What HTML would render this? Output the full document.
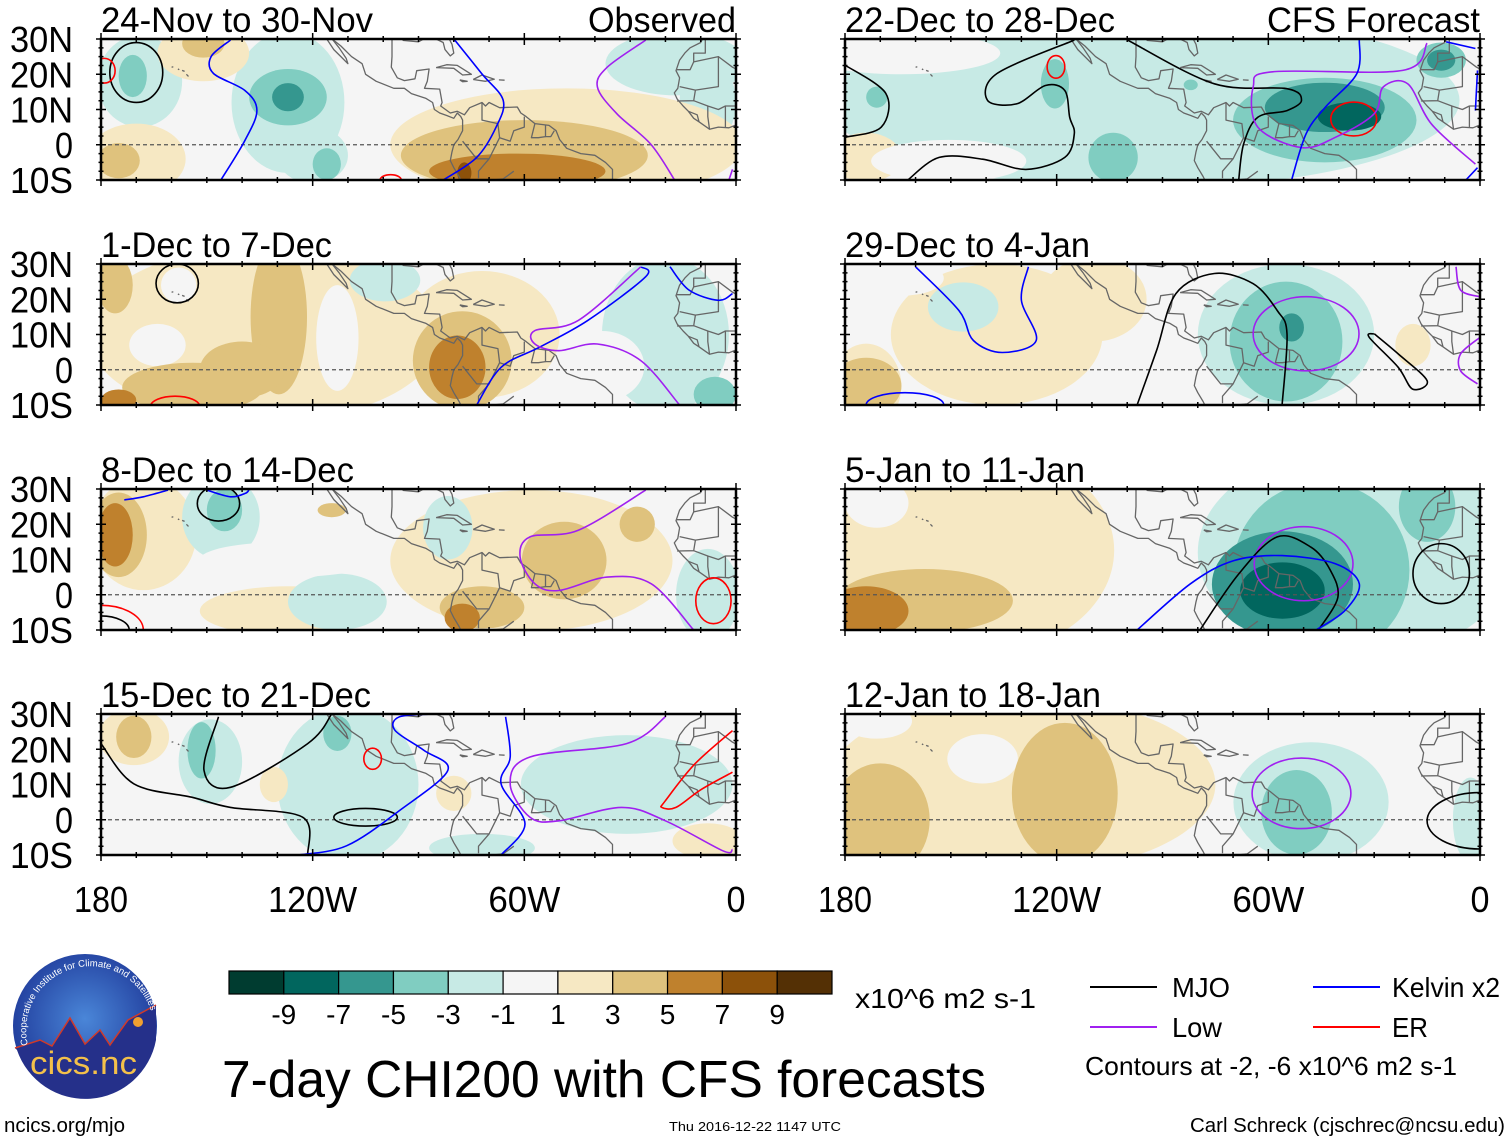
<!DOCTYPE html>
<html><head><meta charset="utf-8"><style>
html,body{margin:0;padding:0;background:#fff}
svg text{font-family:"Liberation Sans Narrow","Liberation Sans",sans-serif;fill:#000}
</style></head><body>
<svg id="fig" width="1510" height="1142" viewBox="0 0 1510 1142" xmlns="http://www.w3.org/2000/svg">
<defs>
<radialGradient id="lg" cx="50%" cy="45%" r="55%"><stop offset="0" stop-color="#4a86d8"/><stop offset="1" stop-color="#1f3a9a"/></radialGradient>
</defs>
<g id="panels"></g>
<g id="colorbar"></g>
<g>
<circle cx="85" cy="1026" r="72" fill="url(#lg)"/>
<path d="M15,1048 L40,1040 L52,1046 L70,1018 L85,1044 L100,1030 L110,1045 L128,1020 L156,1005 L156,1040 A72,72 0 0 1 17,1050 Z" fill="#25308a"/>
<path d="M15,1048 L40,1040 L52,1046 L70,1018 L85,1044 L100,1030 L110,1045 L128,1020 L156,1005" fill="none" stroke="#d03a2a" stroke-width="1.5"/>
<circle cx="138" cy="1022" r="5" fill="#f0a030"/>
<text x="30" y="1074" font-size="32" style="fill:#f3c04a;font-family:'Liberation Sans',sans-serif" textLength="107" lengthAdjust="spacingAndGlyphs">cics.nc</text>
<path id="arcp" d="M28,1045 A60,60 0 1 1 152,1015" fill="none"/>
<text font-size="9.5" style="fill:#fff;font-family:'Liberation Sans',sans-serif"><textPath href="#arcp">Cooperative Institute for Climate and Satellites</textPath></text>
</g>
<g>
<line x1="1090" y1="987" x2="1157" y2="987" stroke="#000" stroke-width="2"/>
<text x="1172" y="997" font-size="28" textLength="58" lengthAdjust="spacingAndGlyphs">MJO</text>
<line x1="1313" y1="987" x2="1380" y2="987" stroke="#0000ff" stroke-width="2"/>
<text x="1392" y="997" font-size="28" textLength="108" lengthAdjust="spacingAndGlyphs">Kelvin x2</text>
<line x1="1090" y1="1027" x2="1157" y2="1027" stroke="#a020f0" stroke-width="2"/>
<text x="1172" y="1037" font-size="28" textLength="50" lengthAdjust="spacingAndGlyphs">Low</text>
<line x1="1313" y1="1027" x2="1380" y2="1027" stroke="#ff0000" stroke-width="2"/>
<text x="1392" y="1037" font-size="28" textLength="36" lengthAdjust="spacingAndGlyphs">ER</text>
<text x="1085" y="1075" font-size="26" textLength="372" lengthAdjust="spacingAndGlyphs">Contours at -2, -6 x10^6 m2 s-1</text>
</g>
<text x="222" y="1097" font-size="52" textLength="764" lengthAdjust="spacingAndGlyphs">7-day CHI200 with CFS forecasts</text>
<text x="855" y="1008" font-size="28" textLength="181" lengthAdjust="spacingAndGlyphs">x10^6 m2 s-1</text>
<text x="4" y="1132" font-size="20" textLength="121" lengthAdjust="spacingAndGlyphs">ncics.org/mjo</text>
<text x="669" y="1131" font-size="13" textLength="172" lengthAdjust="spacingAndGlyphs">Thu 2016-12-22 1147 UTC</text>
<text x="1190" y="1132" font-size="20" textLength="315" lengthAdjust="spacingAndGlyphs">Carl Schreck (cjschrec@ncsu.edu)</text>
</svg>
<script>
// ---- data ----
const panelTitles = ["24-Nov to 30-Nov","1-Dec to 7-Dec","8-Dec to 14-Dec","15-Dec to 21-Dec","22-Dec to 28-Dec","29-Dec to 4-Jan","5-Jan to 11-Jan","12-Jan to 18-Jan"];
const titleWidths = [272,231,253,270,270,245,240,256];
const latTicks = ["30N","20N","10N","0","10S"];
const latValues = [30,20,10,0,-10];
const lonTicks = ["180","120W","60W","0"];
const lonValues = [-180,-120,-60,0];
const cbarLevels = [-9,-7,-5,-3,-1,1,3,5,7,9];
// anomaly blobs per panel: [lon, lat, rxDeg, ryDeg, chiValue]
const blobs0 = [[-169,18,12,13,-2],[-127,12,16,20,-2],[-120,-3,10,8,-2],[-17,23,20,9,-2],[-8,12,8,12,-2],[-48,0,50,16,2],[-151,26,13,8,2],[-170,-4,14,10,2],
 [-171,19.5,4,6,-4],[-127,13.5,11,8,-4],[-116,-5.5,4,4.5,-4],[-60,-3,35,10,4],[-151,28.7,6,4,4],[-175,-4.5,6,5,4],
 [-127,13.5,4.5,4,-6],[-62,-7.5,25,5,6],[-77,-8,2,3,8]];
const blobs1 = [[-133.7,10.2,50,25,2],[-72,10,22,18,2],[-20,10,18,22,-2],[-99.5,25.4,10,6,-2],
 [-164,7,8,6,0],[-113,9,6,15,0],[-158,24,5,5,0],[-38,1,12,10,0],
 [-129.6,15,8,22,4],[-140,0,12,8,4],[-154,-5,20,7,4],[-176,24,5,8,4],[-77.6,2.6,14,14,4],[-6,-7,6,5,-4],
 [-79,0.7,8,9,6],[-175,-8.6,5,3,6]];
const blobs2 = [[-168,17.3,15,16,2],[-58,9.7,40,20,2],[-127,-4.6,25,7,2],[-146,22,11,12,-2],[-113,-2,14,8,-2],[-81.7,19,7,9,-2],[-8,0,9,13,-2],
 [-127,10,25,5,0],
 [-175,17,8,12,4],[-48.7,9.7,12,11,4],[-72,-3.6,12,6,4],[-28,20,5,5,4],[-114.6,24,4,2,4],[-145,24,5,6,-4],
 [-176,17,5,9,6],[-77.6,-6.5,5,4,6]];
const blobs3 = [[-110,10,20,22,-2],[-31,10,30,14,-2],[-149,16.5,9,12,-2],[-72,-8,15,4,-2],
 [-170.7,23.5,10,8,2],[-131,10,4,5,2],[-80,7.5,5,5,2],[-8,-6,10,5,2],
 [-151.5,19.7,4,8,-4],[-113,24.5,4,5,-4],[-170.7,23.5,5,6,4]];
const blobs4 = [[-95.8,12.6,90,25,-2],[-174,-3.6,10,7,2],[-148,29,5,2,2],
 [-164,26,28,6,0],[-150.6,-4.6,22,6,0],[-27,-8,10,3,0],[-7,-5,6,5,0],
 [-171,13.5,3,3,-4],[-120.5,17.3,4,7,-4],[-104,-3.6,7,7,-4],[-44,7,26,12,-4],[-11,24,7,5,-4],[-82,17,2,1.5,-4],
 [-44,10.6,17,7,-6],[-11,24,4,3,-6],[-37,8,9,4,-8]];
const blobs5 = [[-137,10,30,20,2],[-109.5,20,15,12,2],[-146.5,17.8,10,7,-2],[-55,10,25,20,-2],[-19,7,5,6,2],[-174,-4.6,10,12,2],
 [-164,26,12,5,0],
 [-174,-4.6,10,8,4],[-55,8,16,17,-4],[-53.4,12,3.5,4,-6]];
const blobs6 = [[-143.7,12.6,40,30,2],[-35,12,45,30,-2],
 [-171,26,9,7,0],
 [-157.4,-1.7,25,9,4],[-45,7,25,25,-4],[-15,25,8,10,-4],
 [-174,-4.6,12,7,6],[-56,3,20,15,-6],[-56,1.2,12,8,-8]];
const blobs7 = [[-130,10,55,25,2],[-47.9,5,22,17,-2],[-2.7,0,5,12,-2],
 [-141,17.3,10,7,0],[-171,28,10,5,0],
 [-170,0,14,16,4],[-117.7,7.5,15,20,4],[-52,2.1,10,12,-4]];
const blobData = [blobs0,blobs1,blobs2,blobs3,blobs4,blobs5,blobs6,blobs7];
// contour lines: [type, color, points or ellipse]
const lines0 = [["e","k",[-170,20.5,7.5,8.5]],["e","r",[-179,21,3,3.5]],["e","r",[-97.9,-10,3,1.5]],
 ["p","b",[[-143.3,29.7],[-148.8,25],[-148.1,20.2],[-139.2,15.4],[-135.8,9.7],[-139.2,1.2],[-146,-10]]],
 ["p","b",[[-79.7,29.7],[-72.1,20.2],[-66,12.6],[-68,5],[-73.5,-3.6],[-83,-10]]],
 ["p","v",[[-25.6,29.7],[-36.5,22],[-39.3,16.4],[-33.8,8.8],[-24.2,0.2],[-17.4,-10]]],
 ["p","v",[[-1,-7],[-2,-10]]]];
const lines1 = [["e","k",[-158.4,24.5,6,5.5]],["e","r",[-159,-10.5,7,3]],
 ["p","b",[[-73.5,-10],[-66.6,0.7],[-55.7,6.4],[-42,14],[-25.6,26.4],[-27,29.2]]],
 ["p","b",[[-18.7,29.2],[-13.3,22.6],[-5,19.7],[-1,21.6]]],
 ["p","v",[[-27,29.2],[-44.7,14],[-57,11.1],[-57,7.3],[-50.2,5.4],[-39.3,7.3],[-27,2.6],[-16,-10]]]];
const lines2 = [["e","k",[-146.7,25.9,6,5]],["e","r",[-180,-10,12,7]],["e","k",[-180,-10,8,4]],["e","r",[-6.4,-1.7,5,6.5]],
 ["p","b",[[-173.4,26.9],[-168,27.8],[-161,29.7]]],
 ["p","b",[[-150,29.7],[-143.3,27.8],[-139,28.8],[-138,30]]],
 ["p","v",[[-25.6,29.7],[-44.7,18.3],[-58.4,16.4],[-61.2,10.7],[-57,3.1],[-50.2,1.2],[-36.5,5],[-24,3.1],[-12,-10]]]];
const lines3 = [["e","k",[-105,0.7,9,2.5]],["e","r",[-103,17.3,2.5,3]],
 ["p","k",[[-180,21.6],[-170.7,10.2],[-154.3,6.4],[-143.3,3.5],[-122.8,0.7],[-121.4,-10]]],
 ["p","k",[[-146.7,29.2],[-150.8,14],[-143.3,9.2],[-121.4,21.6],[-114.6,30]]],
 ["p","b",[[-124,-10],[-110.4,-7.4],[-95.4,2.6],[-81.7,14],[-88.5,19.7],[-96.7,25.4],[-95.4,29.2],[-85.8,30]]],
 ["p","b",[[-65.3,29.2],[-64,17.8],[-66.6,10.2],[-59.8,-1.2],[-66.6,-10]]],
 ["p","v",[[-20,29.2],[-31,21.6],[-58.4,17.8],[-64,10.2],[-58.4,0.7],[-50.2,-0.3],[-32.4,3.5],[-20,-0.3],[-3.7,-8.8],[-1,-8.4]]],
 ["p","r",[[-1,25.3],[-11.7,15.8],[-20,5.4],[-21,3.5],[-17,3.5],[-10,8.5],[-1,13.5]]]];
const lines4 = [["e","r",[-120.2,22.1,2.5,3.2]],["e","r",[-35.8,7.3,6.5,4.8]],
 ["p","k",[[-180,22.6],[-168.4,14.5],[-169.7,5],[-180,2.1]]],
 ["p","k",[[-162.2,-10],[-153.3,-3.6],[-141,-4.1],[-128.7,-7],[-117.7,-3.6],[-115,3.1],[-116.3,7.8],[-117.7,15.4],[-123.2,16.8],[-131.4,11.6],[-139.6,12.6],[-136.9,20.2],[-115,29.7]]],
 ["p","k",[[-99.9,29.7],[-75.3,17.3],[-54.7,15.9],[-50.6,12.6],[-54.7,9.7],[-63,7.8],[-67,0.2],[-68.4,-10]]],
 ["p","v",[[-15,28.8],[-21.9,21.1],[-58.8,20.7],[-64.3,16.4],[-63,5],[-50.6,-0.8],[-41,2.1],[-30,8.8],[-27.4,16.4],[-20.5,17.3],[-13.7,5.8],[-1.3,-5.5]]],
 ["p","b",[[-34.2,29.7],[-34.9,20.2],[-43.8,10.7],[-49.3,3.1],[-53.4,-10]]],
 ["p","b",[[-9.6,29.2],[-1.3,27.3]]],["p","b",[[-0.7,21.1],[-1.3,9.7]]],["p","b",[[-4,-10],[-0.7,-6.5]]]];
const lines5 = [["e","b",[-163,-10,11,3.5]],["e","v",[-49.3,10.2,15,10.5]],
 ["p","b",[[-160,29.2],[-147.7,16.8],[-143.6,8.3],[-135.4,4.9],[-125.8,8.3],[-130,19.7],[-128,29.2]]],
 ["p","k",[[-97.2,-10],[-91.7,5.4],[-86.2,21.6],[-75.3,27.3],[-64.3,24.4],[-57.5,16.8],[-54.7,10.2],[-56.1,-10]]],
 ["p","k",[[-30,10.2],[-23.2,4.5],[-15,-3.1],[-19.1,-5.5],[-23.2,0.7],[-31.4,9.2],[-30,10.2]]],
 ["p","v",[[-6.8,29.2],[-5.5,22.6],[0,20.7]]],["p","v",[[0,9.2],[-5.5,4.5],[-5.5,-0.3],[-0.7,-4]]]];
const lines6 = [["e","k",[-11,6,8,8.5]],["e","v",[-50,8.8,14,10.5]],
 ["p","k",[[-79.4,-10],[-68.4,5.9],[-57.5,16.4],[-47.9,13.5],[-42.4,6.9],[-40.3,-0.8],[-45.8,-10]]],
 ["p","b",[[-97.2,-10],[-82.1,3.1],[-69.8,9.7],[-56.1,11.1],[-41,8.8],[-34.2,3.1],[-38.3,-4.5],[-46.5,-10]]]];
const lines7 = [["e","v",[-50.6,7.5,14,10]],["e","k",[0,-0.3,15,8]]];
const lineData = [lines0,lines1,lines2,lines3,lines4,lines5,lines6,lines7];

// coastlines (lon,lat)
const coasts = [
 [[-116,30],[-114,27],[-112,25],[-110,23],[-110.5,24.5],[-112.5,27.5],[-114.5,30]],
 [[-114.5,30],[-112,28],[-109,25],[-106,23],[-105,20],[-102,18],[-97,16],[-94,16],[-92,14.5],[-88,13.2],[-86,12],[-85.5,10],[-84,9],[-82,8.3],[-80,7.5],[-79,9],[-78,8],[-77.5,7],[-77.5,4],[-78.8,1.5],[-80,0],[-80.5,-2],[-81,-4.5],[-80,-6.5],[-78.5,-9],[-78,-10]],
 [[-97.5,30],[-97.5,28],[-97.5,25],[-97.7,22],[-96,19],[-94,18.2],[-91,18.7],[-90.5,21],[-87,21.5],[-87.5,18],[-88.3,16],[-84,15.8],[-83.3,12],[-83.7,11],[-81,9],[-79,9.5],[-77,8.5],[-75.5,10.5],[-72,12],[-71,11],[-70,12],[-67,10.5],[-62,10.7],[-61,9],[-59.5,8],[-57,6],[-53,5.5],[-51,4],[-50,1.5],[-48,-1],[-44,-2.5],[-40,-3],[-37,-5],[-35,-7],[-35,-10]],
 [[-94.5,29.6],[-90,29.2],[-88,30.3],[-85,30],[-83,29],[-82.5,27],[-81,25.2],[-80,26],[-80.5,28.5],[-81.3,30]],
 [[-85,21.9],[-82,22.7],[-79,22.5],[-75,20],[-77.5,19.8],[-80,21.7],[-85,21.9]],
 [[-74.5,18.5],[-72,19.8],[-68.5,18.6],[-71,18],[-74.5,18.5]],
 [[-78.3,18.4],[-76.2,18],[-77.5,17.9],[-78.3,18.4]],[[-67.2,18.4],[-65.6,18.3]],
 [[-72,12],[-72,7],[-67.5,6],[-67,2],[-70,-4],[-73.5,-4],[-77.5,1]],
 [[-60,8],[-60,5],[-63,4],[-64,1],[-67,2]],[[-57,6],[-58,2],[-56,2],[-54,2.3],[-54,5.5]],[[-51.5,4],[-52.5,2.3],[-54,2.3]],
 [[-70,-4],[-73,-7.5],[-73,-9.5]],[[-69,-10],[-66,-9.7],[-63,-7.5]],
 [[-9.5,30],[-10,29],[-13,27.5],[-14.5,26],[-16,24],[-17,21],[-16,19],[-16.5,16],[-17.5,14.7],[-16.7,13],[-15,11],[-13.5,9.5],[-12,7.5],[-10.5,6.5],[-7.5,4.4],[-5,5],[-2,4.8],[0,5.6]],
 [[-8.7,30],[-8.7,27.7],[-8.7,26],[-12,26],[-12,23.5],[-13,21.3],[-17,21.3]],
 [[-12,23.5],[-5,25],[-5,16.5],[-11.5,15.5],[-16,16.5]],[[-5,25],[-1,22],[0,21.5]],
 [[-11.5,15.5],[-12,12.5],[-16.7,12.4]],[[-12,12.5],[-8,11],[-5,10],[-3,11],[0,11]],[[-8,11],[-8,8],[-7.5,4.4]],[[-13.5,9.5],[-11,8.5],[-10.5,6.5]],[[-3,11],[-3,5]],
 [[-160,22],[-159.5,22.1]],[[-158.2,21.5],[-157.8,21.3]],[[-157,21.1],[-156.3,20.8]],[[-155.8,20],[-155.2,19.4]]
];

const negCols = ["#c7eae5","#80cdc1","#35978f","#01665e","#003c30"];
const posCols = ["#f6e8c3","#dfc27d","#bf812d","#8c510a","#543005"];
function colorFor(v){
  if(v===0) return "#f5f5f5";
  const i = Math.min(4, Math.floor((Math.abs(v)-1)/2));
  return v<0 ? negCols[i] : posCols[i];
}
const lineCols = {k:"#000000",b:"#0000ff",v:"#a020f0",r:"#ff0000"};
const NS="http://www.w3.org/2000/svg";
function el(tag, attrs, parent){const e=document.createElementNS(NS,tag);for(const k in attrs)e.setAttribute(k,attrs[k]);parent.appendChild(e);return e;}

const PW=635, PH=141;
const colX=[101,845], rowY=[39,264,489,714];
function xScale(x0,lon){return x0+(lon+180)/180*PW;}
function yScale(y0,lat){return y0+(30-lat)/40*PH;}
function smoothPath(pts){
  if(pts.length<3) return "M"+pts.map(p=>p[0].toFixed(1)+","+p[1].toFixed(1)).join(" L");
  let d="M"+pts[0][0].toFixed(1)+","+pts[0][1].toFixed(1);
  for(let i=0;i<pts.length-1;i++){
    const p0=pts[Math.max(0,i-1)],p1=pts[i],p2=pts[i+1],p3=pts[Math.min(pts.length-1,i+2)];
    const c1=[p1[0]+(p2[0]-p0[0])/6,p1[1]+(p2[1]-p0[1])/6];
    const c2=[p2[0]-(p3[0]-p1[0])/6,p2[1]-(p3[1]-p1[1])/6];
    d+=" C"+c1[0].toFixed(1)+","+c1[1].toFixed(1)+" "+c2[0].toFixed(1)+","+c2[1].toFixed(1)+" "+p2[0].toFixed(1)+","+p2[1].toFixed(1);
  }
  return d;
}

const root=document.getElementById("panels");
const defs=document.querySelector("defs");
for(let p=0;p<8;p++){
  const col=p<4?0:1, row=p%4;
  const x0=colX[col], y0=rowY[row];
  const g=el("g",{},root);
  
  
  const cp=el("clipPath",{id:"clip"+p},defs);
  el("rect",{x:x0,y:y0,width:PW,height:PH},cp);
  const inner=el("g",{"clip-path":"url(#clip"+p+")"},g);
  el("rect",{x:x0,y:y0,width:PW,height:PH,fill:"#f5f5f5"},inner);
  const bl=blobData[p];
  const order=[1,0,2,3,4];
  for(const cls of order){
    for(const b of bl){
      const c = b[4]===0?0:Math.floor((Math.abs(b[4])-1)/2)+1;
      if(c!==cls) continue;
      const sx=PW/180, sy=PH/40;
      const e=el("ellipse",{cx:xScale(x0,b[0]),cy:yScale(y0,b[1]),rx:b[2]*sx,ry:b[3]*sy,fill:colorFor(b[4])},inner);
      
      
    }
  }
  for(const c of coasts){
    const pts=c.map(q=>[xScale(x0,q[0]),yScale(y0,q[1])]);
    const cl=el("path",{d:"M"+pts.map(q=>q[0].toFixed(1)+","+q[1].toFixed(1)).join(" L"),fill:"none",stroke:"#666", "stroke-width":"1.3","stroke-linejoin":"round"},inner);
    
    
  }
  el("line",{x1:x0,y1:yScale(y0,0),x2:x0+PW,y2:yScale(y0,0),stroke:"#555","stroke-width":"1.2","stroke-dasharray":"4,3"},inner);
  for(const L of lineData[p]){
    let d;
    if(L[0]==="e"){
      const a=L[2], cx=xScale(x0,a[0]), cy=yScale(y0,a[1]), rx=a[2]*PW/180, ry=a[3]*PH/40;
      d="M"+(cx-rx)+","+cy+" A"+rx+","+ry+" 0 1 0 "+(cx+rx)+","+cy+" A"+rx+","+ry+" 0 1 0 "+(cx-rx)+","+cy+" Z";
    } else {
      d=smoothPath(L[2].map(q=>[xScale(x0,q[0]),yScale(y0,q[1])]));
    }
    const ln=el("path",{d:d,fill:"none",stroke:lineCols[L[1]],"stroke-width":"1.6"},inner);
    
    
  }
  let tk="";
  for(let lo=-180;lo<=0;lo+=10){
    const x=xScale(x0,lo), len=(lo%60===0)?6:3;
    tk+="M"+x+","+(y0-len)+" L"+x+","+(y0+len)+" M"+x+","+(y0+PH-len)+" L"+x+","+(y0+PH+len)+" ";
  }
  for(let la=-10;la<=30;la+=2.5){
    const y=yScale(y0,la), len=(la%10===0)?5:2.5;
    tk+="M"+(x0-len)+","+y+" L"+(x0+len)+","+y+" M"+(x0+PW-len)+","+y+" L"+(x0+PW+len)+","+y+" ";
  }
  el("path",{d:tk,stroke:"#000","stroke-width":"1.5",fill:"none"},g);
  const fr=el("rect",{x:x0,y:y0,width:PW,height:PH,fill:"none",stroke:"#000","stroke-width":"2.5"},g);
  
  
  const t=el("text",{x:x0,y:y0-7,"font-size":"35",textLength:titleWidths[p],lengthAdjust:"spacingAndGlyphs"},g);
  t.textContent=panelTitles[p];
  
  
  if(p===0||p===4){
    const s=el("text",{x:x0+PW,y:y0-7,"font-size":"35","text-anchor":"end",textLength:p===0?148:213,lengthAdjust:"spacingAndGlyphs"},g);
    s.textContent=p===0?"Observed":"CFS Forecast";
    
    
  }
  if(col===0){
    for(let i=0;i<latTicks.length;i++){
      const lt=el("text",{x:73,y:yScale(y0,latValues[i])+13,"font-size":"36","text-anchor":"end",textLength:latTicks[i]==="0"?18:63,lengthAdjust:"spacingAndGlyphs"},g);
      lt.textContent=latTicks[i];
      
      
    }
  }
  if(row===3){
    const wds=[54,89,72,19];
    for(let i=0;i<lonTicks.length;i++){
      const xt=el("text",{x:xScale(x0,lonValues[i]),y:912,"font-size":"36","text-anchor":"middle",textLength:wds[i],lengthAdjust:"spacingAndGlyphs"},g);
      xt.textContent=lonTicks[i];
      
      
    }
  }
}
const cb=document.getElementById("colorbar");
const cbX=229, cbY=971, cbW=603, cbH=23, nBox=cbarLevels.length+1, bw=cbW/nBox;
for(let i=0;i<nBox;i++){
  const v = i===0 ? cbarLevels[0]-1 : (i===nBox-1 ? cbarLevels[nBox-2]+1 : (cbarLevels[i-1]+cbarLevels[i])/2);
  const r=el("rect",{x:cbX+i*bw,y:cbY,width:bw,height:cbH,fill:colorFor(v),stroke:"#000","stroke-width":"1.2"},cb);
  
  
}
for(let i=0;i<cbarLevels.length;i++){
  const t=el("text",{x:cbX+(i+1)*bw,y:1024,"font-size":"28","text-anchor":"middle"},cb);
  t.textContent=String(cbarLevels[i]);
  
  
}
</script>
</body></html>
